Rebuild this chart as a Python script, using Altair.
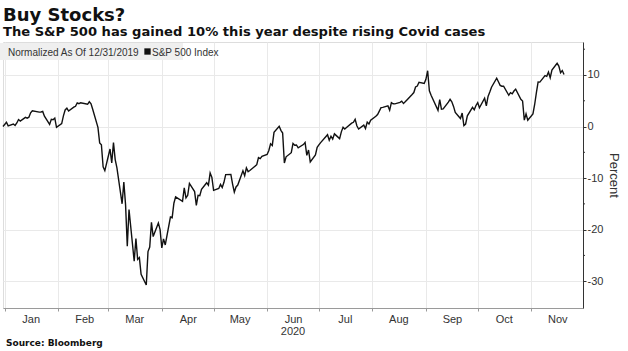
import altair as alt
import pandas as pd

# ---- data (percent change vs 12/31/2019) ----
dates = [
    "2019-12-31",
    "2020-01-02", "2020-01-03", "2020-01-06", "2020-01-07", "2020-01-08", "2020-01-09", "2020-01-10",
    "2020-01-13", "2020-01-14", "2020-01-15", "2020-01-16", "2020-01-17", "2020-01-21", "2020-01-22",
    "2020-01-23", "2020-01-24", "2020-01-27", "2020-01-28", "2020-01-29", "2020-01-30", "2020-01-31",
    "2020-02-03", "2020-02-04", "2020-02-05", "2020-02-06", "2020-02-07", "2020-02-10", "2020-02-11",
    "2020-02-12", "2020-02-13", "2020-02-14", "2020-02-18", "2020-02-19", "2020-02-20", "2020-02-21",
    "2020-02-24", "2020-02-25", "2020-02-26", "2020-02-27", "2020-02-28",
    "2020-03-02", "2020-03-03", "2020-03-04", "2020-03-05", "2020-03-06", "2020-03-09", "2020-03-10",
    "2020-03-11", "2020-03-12", "2020-03-13", "2020-03-16", "2020-03-17", "2020-03-18", "2020-03-19",
    "2020-03-20", "2020-03-23", "2020-03-24", "2020-03-25", "2020-03-26", "2020-03-27", "2020-03-30",
    "2020-03-31",
    "2020-04-01", "2020-04-02", "2020-04-03", "2020-04-06", "2020-04-07", "2020-04-08", "2020-04-09",
    "2020-04-13", "2020-04-14", "2020-04-15", "2020-04-16", "2020-04-17", "2020-04-20", "2020-04-21",
    "2020-04-22", "2020-04-23", "2020-04-24", "2020-04-27", "2020-04-28", "2020-04-29", "2020-04-30",
    "2020-05-01", "2020-05-04", "2020-05-05", "2020-05-06", "2020-05-07", "2020-05-08", "2020-05-11",
    "2020-05-12", "2020-05-13", "2020-05-14", "2020-05-15", "2020-05-18", "2020-05-19", "2020-05-20",
    "2020-05-21", "2020-05-22", "2020-05-26", "2020-05-27", "2020-05-28", "2020-05-29",
    "2020-06-01", "2020-06-02", "2020-06-03", "2020-06-04", "2020-06-05", "2020-06-08", "2020-06-09",
    "2020-06-10", "2020-06-11", "2020-06-12", "2020-06-15", "2020-06-16", "2020-06-17", "2020-06-18",
    "2020-06-19", "2020-06-22", "2020-06-23", "2020-06-24", "2020-06-25", "2020-06-26", "2020-06-29",
    "2020-06-30",
    "2020-07-01", "2020-07-02", "2020-07-06", "2020-07-07", "2020-07-08", "2020-07-09", "2020-07-10",
    "2020-07-13", "2020-07-14", "2020-07-15", "2020-07-16", "2020-07-17", "2020-07-20", "2020-07-21",
    "2020-07-22", "2020-07-23", "2020-07-24", "2020-07-27", "2020-07-28", "2020-07-29", "2020-07-30",
    "2020-07-31",
    "2020-08-03", "2020-08-04", "2020-08-05", "2020-08-06", "2020-08-07", "2020-08-10", "2020-08-11",
    "2020-08-12", "2020-08-13", "2020-08-14", "2020-08-17", "2020-08-18", "2020-08-19", "2020-08-20",
    "2020-08-21", "2020-08-24", "2020-08-25", "2020-08-26", "2020-08-27", "2020-08-28", "2020-08-31",
    "2020-09-01", "2020-09-02", "2020-09-03", "2020-09-04", "2020-09-08", "2020-09-09", "2020-09-10",
    "2020-09-11", "2020-09-14", "2020-09-15", "2020-09-16", "2020-09-17", "2020-09-18", "2020-09-21",
    "2020-09-22", "2020-09-23", "2020-09-24", "2020-09-25", "2020-09-28", "2020-09-29", "2020-09-30",
    "2020-10-01", "2020-10-02", "2020-10-05", "2020-10-06", "2020-10-07", "2020-10-08", "2020-10-09",
    "2020-10-12", "2020-10-13", "2020-10-14", "2020-10-15", "2020-10-16", "2020-10-19", "2020-10-20",
    "2020-10-21", "2020-10-22", "2020-10-23", "2020-10-26", "2020-10-27", "2020-10-28", "2020-10-29",
    "2020-10-30",
    "2020-11-02", "2020-11-03", "2020-11-04", "2020-11-05", "2020-11-06", "2020-11-09", "2020-11-10",
    "2020-11-11", "2020-11-12", "2020-11-13", "2020-11-16", "2020-11-17", "2020-11-18", "2020-11-19",
    "2020-11-20",
]
values = [
    0.0,
    0.84, 0.13, 0.48, 0.20, 0.69, 1.36, 1.07,
    1.78, 1.62, 1.81, 2.66, 3.06, 2.79, 2.82,
    2.93, 2.00, 0.40, 1.40, 1.32, 1.64, -0.16,
    0.56, 2.07, 3.22, 3.56, 3.00, 3.75, 3.93,
    4.60, 4.43, 4.62, 4.32, 4.81, 4.41, 3.31,
    -0.15, -3.17, -3.54, -7.80, -8.56,
    -4.35, -7.04, -3.12, -6.40, -8.00, -14.99, -10.79,
    -15.15, -23.22, -16.09, -26.14, -21.72, -25.77, -25.42,
    -28.66, -30.75, -24.25, -23.38, -18.59, -21.34, -18.70,
    -20.00,
    -23.53, -21.79, -22.97, -17.55, -17.68, -14.88, -13.65,
    -14.52, -11.91, -13.85, -13.35, -11.03, -12.62, -15.30,
    -13.35, -13.40, -12.20, -10.90, -11.37, -9.02, -9.85,
    -12.38, -12.01, -11.22, -11.84, -10.82, -9.32, -9.30,
    -11.16, -12.71, -11.71, -11.36, -8.57, -9.53, -8.02,
    -8.74, -8.52, -7.40, -6.02, -6.22, -5.77,
    -5.42, -4.64, -3.34, -3.67, -1.14, 0.05, -0.73,
    -1.26, -7.08, -5.87, -5.08, -3.28, -3.63, -3.57,
    -4.12, -3.50, -3.08, -5.59, -4.55, -6.86, -5.50,
    -4.04,
    -3.56, -3.12, -1.58, -2.65, -1.88, -2.44, -1.42,
    -2.34, -1.03, -0.13, -0.47, -0.19, 0.65, 0.82,
    1.40, 0.15, -0.47, 0.27, -0.38, 0.86, 0.48,
    1.25,
    1.98, 2.34, 3.00, 3.66, 3.73, 4.01, 3.18,
    4.63, 4.41, 4.40, 4.68, 4.92, 4.46, 4.79,
    5.15, 6.21, 6.59, 7.67, 7.86, 8.58, 8.34,
    9.16, 10.83, 6.94, 6.07, 3.13, 5.20, 3.36,
    3.41, 4.73, 5.27, 4.79, 3.91, 2.75, 1.56,
    2.62, 0.19, 0.49, 2.09, 3.74, 3.24, 4.09,
    4.64, 3.64, 5.50, 4.03, 5.84, 6.69, 7.62,
    9.39, 8.70, 7.98, 7.82, 7.83, 6.07, 6.57,
    6.34, 6.89, 7.26, 5.27, 4.95, 1.25, 2.46,
    1.21,
    2.46, 4.28, 6.58, 8.66, 8.62, 9.89, 9.74,
    10.58, 9.48, 10.97, 12.26, 11.72, 10.43, 10.87,
    10.11,
]
y_ticks = [-30, -20, -10, 0, 10]
y_minor = [-25, -15, -5, 5, 15]
month_numbers = [1, 2, 3, 4, 5, 6, 7, 8, 9, 10, 11]

title_text = "Buy Stocks?"
subtitle_text = "The S&P 500 has gained 10% this year despite rising Covid cases"
legend_note = "Normalized As Of 12/31/2019"
legend_series = "S&P 500 Index"
source_text = "Source: Bloomberg"
year_label = "2020"

df = pd.DataFrame({"date": dates, "value": values})
one = pd.DataFrame({"k": [0]})

W, H = 580, 266
FONT = "Liberation Sans"
BOLD = "DejaVu Sans"

x_scale = alt.Scale(
    type="utc",
    domain=[alt.DateTime(year=2019, month=12, date=31, utc=True),
            alt.DateTime(year=2020, month=12, date=1, utc=True)],
)
y_scale = alt.Scale(domain=[-35.2, 16.4], nice=False, zero=False)

x_axis = alt.Axis(
    values=[alt.DateTime(year=2020, month=m, date=1, utc=True) for m in month_numbers],
    labelExpr="utcFormat(datum.value, '%b')", labelOffset=26, labelPadding=2,
    title=None, grid=True, gridColor="#e9e9e9", gridWidth=1,
    domainColor="#9a9a9a", domainWidth=1.2, tickColor="#9a9a9a", tickSize=3,
    labelFont=FONT, labelFontSize=11, labelColor="#333333",
)
y_axis = alt.Axis(
    orient="right", values=y_ticks, title="Percent", grid=True, gridColor="#e9e9e9",
    domainColor="#333333", tickColor="#333333", tickSize=3, labelPadding=1,
    labelExpr="datum.value + ''", labelFont=FONT, labelFontSize=11, labelColor="#333333",
    titleFont=FONT, titleFontSize=13, titleFontWeight="normal", titleColor="#333333",
    titlePadding=4,
)

line = alt.Chart(df).mark_line(color="#111111", strokeWidth=1.4).encode(
    x=alt.X("date:T", scale=x_scale, axis=x_axis),
    y=alt.Y("value:Q", scale=y_scale, axis=y_axis),
)

minor = alt.Chart(pd.DataFrame({"v": y_minor})).mark_rule(color="#333333", strokeWidth=1).encode(
    y=alt.Y("v:Q", scale=y_scale), x=alt.value(W), x2=alt.value(W + 2)
)

band = alt.Chart(one).mark_rect(color="#efefef").encode(
    x=alt.value(-3), x2=alt.value(180), y=alt.value(1), y2=alt.value(18)
)
note = alt.Chart(one).mark_text(align="left", baseline="alphabetic", font=FONT, fontSize=10,
                                color="#333333", text=legend_note).encode(
    x=alt.value(5), y=alt.value(13.5))
square = alt.Chart(one).mark_square(color="#111111", size=40, opacity=1).encode(
    x=alt.value(144.5), y=alt.value(9.5))
series = alt.Chart(one).mark_text(align="left", baseline="alphabetic", font=FONT, fontSize=10,
                                  color="#333333", text=legend_series).encode(
    x=alt.value(149), y=alt.value(13.5))

title = alt.Chart(one).mark_text(align="left", baseline="alphabetic", font=BOLD, fontSize=18,
                                 fontWeight="bold", color="#111111", text=title_text).encode(
    x=alt.value(0), y=alt.value(-21))
subtitle = alt.Chart(one).mark_text(align="left", baseline="alphabetic", font=BOLD, fontSize=13.1,
                                    fontWeight="bold", color="#111111", text=subtitle_text).encode(
    x=alt.value(0), y=alt.value(-6))
year = alt.Chart(one).mark_text(align="center", baseline="alphabetic", font=FONT, fontSize=11,
                                color="#333333", text=year_label).encode(
    x=alt.value(290), y=alt.value(H + 27))
source = alt.Chart(one).mark_text(align="left", baseline="alphabetic", font=BOLD, fontSize=9,
                                  fontWeight="bold", color="#111111", text=source_text).encode(
    x=alt.value(3), y=alt.value(H + 38))

chart = alt.layer(line, minor, band, note, square, series, title, subtitle, year, source).properties(
    width=W, height=H,
    autosize=alt.AutoSizeParams(type="none"),
    padding={"left": 3, "top": 42, "right": 45, "bottom": 43},
).configure_view(stroke=None).configure(background="white")

chart.save("out.html", embed_options={"renderer": "svg", "actions": False})
